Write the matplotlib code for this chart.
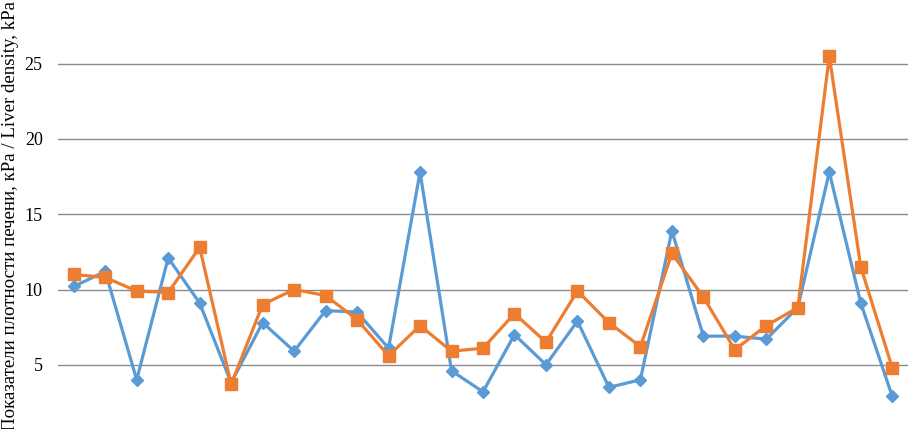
import matplotlib.pyplot as plt
import numpy as np

# values (kPa)
points = np.arange(1, 28)
blue_vals = [10.2, 11.2, 4.0, 12.1, 9.1, 3.8, 7.8, 5.9, 8.6, 8.5, 6.1, 17.8, 4.6, 3.2,
             7.0, 5.0, 7.9, 3.5, 4.0, 13.9, 6.9, 6.9, 6.7, 8.8, 17.8, 9.1, 2.9]
orange_vals = [11.0, 10.8, 9.9, 9.8, 12.8, 3.7, 9.0, 10.0, 9.6, 8.0, 5.6, 7.6, 5.9, 6.1,
               8.4, 6.5, 9.9, 7.8, 6.2, 12.4, 9.5, 6.0, 7.6, 8.8, 25.5, 11.5, 4.8]
yticks = [5, 10, 15, 20, 25]

plt.rcParams['font.family'] = ['Liberation Serif', 'DejaVu Serif']

fig = plt.figure(figsize=(9.08, 4.29), dpi=100)
# plot area runs past the picture's bottom/top edges, as in the cropped original
ax = fig.add_axes([58 / 908, -11 / 429, 850 / 908, 451.5 / 429])

ax.plot(points, blue_vals, color='#5B9BD5', lw=2.3, marker='D', ms=6, zorder=3)
ax.plot(points, orange_vals, color='#ED7D31', lw=2.3, marker='s', ms=8, zorder=4)

ax.set_xlim(0.5, 27.5)
ax.set_ylim(0, 30)
ax.set_yticks(yticks)
ax.set_xticks([])
ax.yaxis.grid(True, color='#8c8c8c', lw=1)
ax.set_axisbelow(True)
ax.tick_params(axis='y', length=0, pad=11, labelsize=13)
for s in ax.spines.values():
    s.set_visible(False)

fig.text(0.012, -0.004, 'Показатели плотности печени, кРа / Liver density, kPa',
         rotation=90, ha='center', va='bottom', fontsize=13.6)

plt.savefig('out.png', dpi=100)
plt.close()
